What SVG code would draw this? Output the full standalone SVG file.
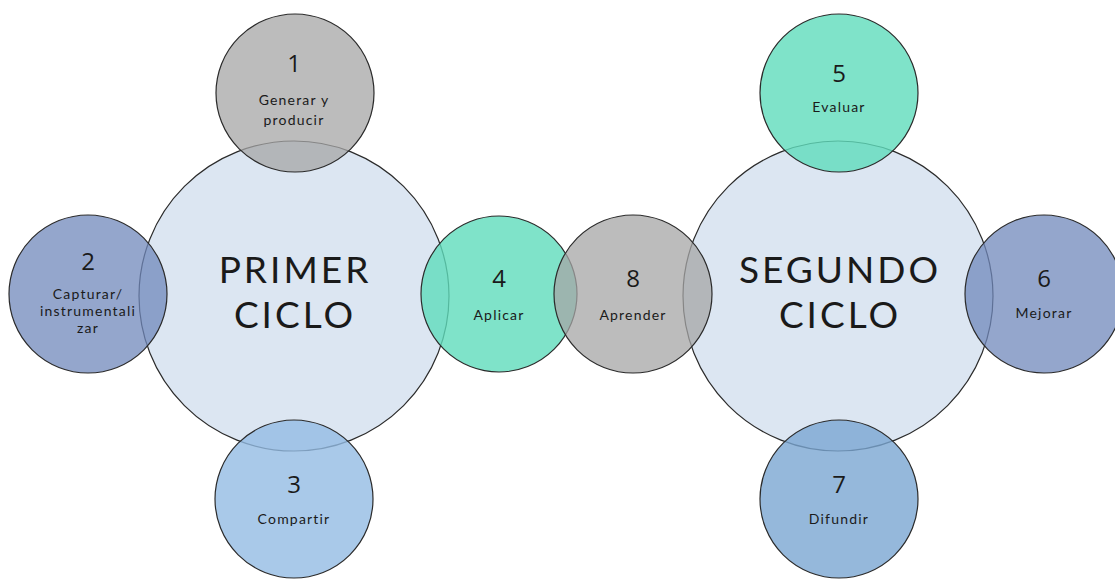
<svg xmlns="http://www.w3.org/2000/svg" width="1115" height="579" viewBox="0 0 1115 579">
<style>
circle{stroke:#2b2b2b;stroke-width:1.2}
.big{fill:#dce6f2}
.grey{fill:#a6a6a6;fill-opacity:.75}
.teal{fill:#5fdcbc;fill-opacity:.8}
.slate{fill:#7088bb;fill-opacity:.75}
.sky{fill:#94bce3;fill-opacity:.8}
.blue{fill:#7aa6d2;fill-opacity:.8}
text{font-family:"Open Sans","DejaVu Sans",sans-serif;fill:#1a1a1a;text-anchor:middle}
.t{font-family:Lato,"Open Sans",sans-serif;font-size:37px;letter-spacing:3px}
.n{font-size:24px}
.l{font-family:Lato,"Open Sans",sans-serif;font-size:14px;letter-spacing:1.2px}
</style>
<rect width="1115" height="579" fill="#fff"/>
<g id="primer-ciclo">
<circle class="big" cx="294" cy="296" r="155"/>
<text class="t" x="295" y="283">PRIMER</text>
<text class="t" x="295" y="328">CICLO</text>
</g>
<g id="segundo-ciclo">
<circle class="big" cx="838" cy="296" r="155"/>
<text class="t" x="840" y="283">SEGUNDO</text>
<text class="t" x="840" y="328">CICLO</text>
</g>
<g id="n1">
<circle class="grey" cx="295" cy="93" r="79"/>
<text class="n" x="294" y="72">1</text>
<text class="l" x="294" y="105">Generar y</text>
<text class="l" x="294" y="125">producir</text>
</g>
<g id="n2">
<circle class="slate" cx="88" cy="294" r="79"/>
<text class="n" x="88" y="270">2</text>
<text class="l" x="88" y="299">Capturar/</text>
<text class="l" x="88" y="316">instrumentali</text>
<text class="l" x="88" y="333">zar</text>
</g>
<g id="n3">
<circle class="sky" cx="294" cy="499" r="79"/>
<text class="n" x="294" y="493">3</text>
<text class="l" x="294" y="524">Compartir</text>
</g>
<g id="n4">
<circle class="teal" cx="499" cy="294" r="78"/>
<text class="n" x="499" y="287">4</text>
<text class="l" x="499" y="320">Aplicar</text>
</g>
<g id="n8">
<circle class="grey" cx="633" cy="294" r="79"/>
<text class="n" x="633" y="287">8</text>
<text class="l" x="633" y="320">Aprender</text>
</g>
<g id="n5">
<circle class="teal" cx="839" cy="93" r="79"/>
<text class="n" x="839" y="82">5</text>
<text class="l" x="839" y="112">Evaluar</text>
</g>
<g id="n6">
<circle class="slate" cx="1044" cy="294" r="79"/>
<text class="n" x="1044" y="287">6</text>
<text class="l" x="1044" y="318">Mejorar</text>
</g>
<g id="n7">
<circle class="blue" cx="839" cy="499" r="79"/>
<text class="n" x="839" y="493">7</text>
<text class="l" x="839" y="524">Difundir</text>
</g>
<g id="connectors"/>
</svg>
